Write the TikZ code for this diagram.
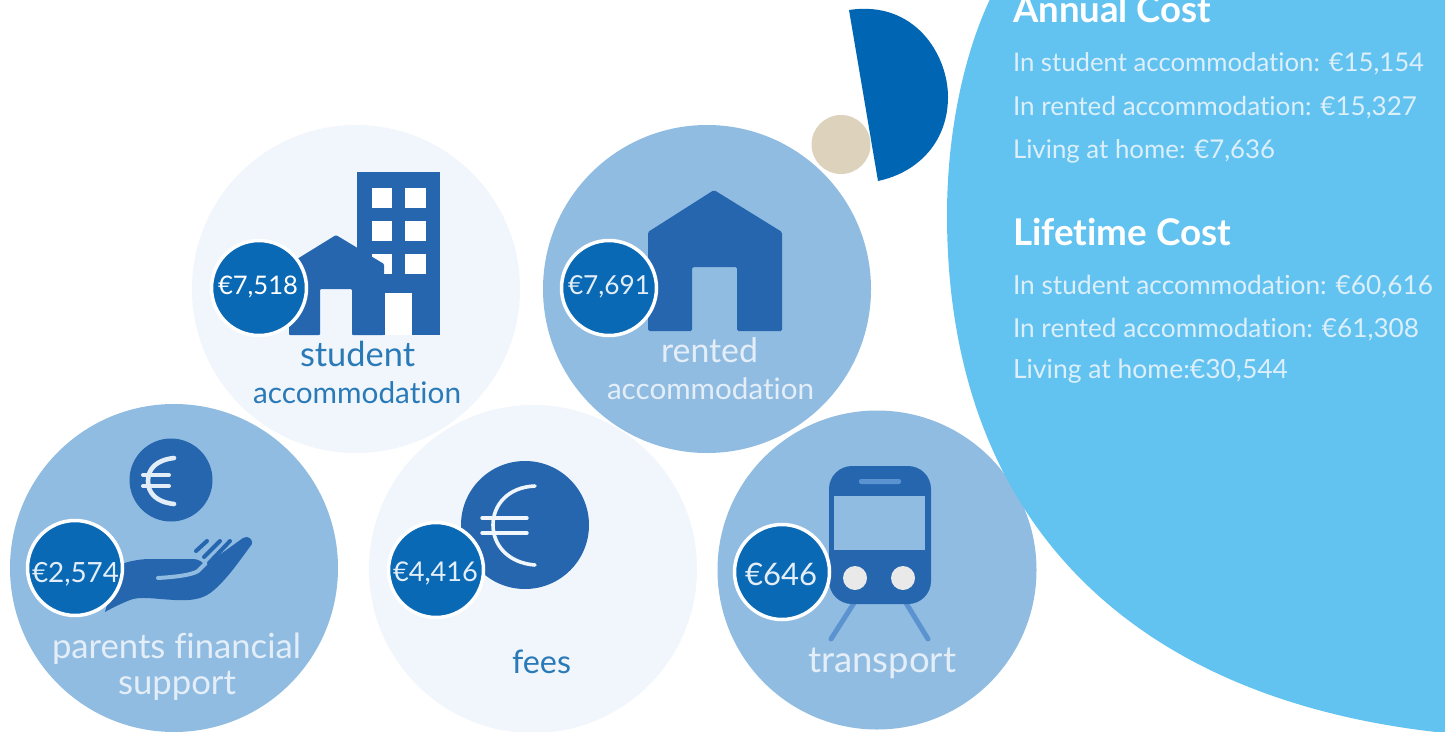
\documentclass[tikz,border=0pt]{standalone}
\usepackage{graphicx}
\usepackage{fontspec}
\setmainfont{Lato}[Ligatures=NoCommon]
\definecolor{bigblue}{HTML}{62C3F0}
\definecolor{midblue}{HTML}{91BCE1}
\definecolor{paleblue}{HTML}{F0F6FC}
\definecolor{iconblue}{HTML}{2566AF}
\definecolor{badgeblue}{HTML}{0A69B4}
\definecolor{deepblue}{HTML}{0066B3}
\definecolor{beige}{HTML}{DDD2BC}
\definecolor{railblue}{HTML}{5B93D0}
\definecolor{lighttxt}{HTML}{E3EEF8}
\definecolor{paneltxt}{HTML}{DCEFFB}
\definecolor{darktxt}{HTML}{2A7AB8}
\definecolor{lampgrey}{HTML}{E9E9E9}
\tikzset{
  lbl/.style={anchor=base west,inner sep=0pt,outer sep=0pt},
  badge/.style={circle,fill=badgeblue,draw=white,line width=3.5pt,inner sep=0pt,minimum size=95pt},
  eurostroke/.style={line cap=round,fill=none},
}
\newcommand{\lab}[6]{\node[lbl,text=#5] (#1) at (#2,#3) {\resizebox{#4pt}{!}{#6}};}
\begin{document}
\begin{tikzpicture}[x=1pt,y=-1pt]
\useasboundingbox (0,0) rectangle (1445,731);
\clip (0,0) rectangle (1445,731);
\fill[white] (0,0) rectangle (1445,731);
% half disc and small disc
\fill[beige] (841,144.5) circle (29.5pt);
\fill[deepblue] (849,10) .. controls (915,0) and (948,55) .. (948,97) .. controls (948,140) and (920,172) .. (878,181) -- cycle;
% big circles
\fill[paleblue] (356,289) circle (164pt);
\fill[midblue] (707,289) circle (164pt);
\fill[midblue] (174,568) circle (164pt);
\fill[paleblue] (533,569) circle (164pt);
\fill[white] (877,570) circle (162pt);
\fill[midblue] (877,570) circle (159.5pt);
% panel
\fill[bigblue] (992,-5) .. controls (965,50) and (947,130) .. (947,215) .. controls (947,520) and (1130,700) .. (1445,733) -- (1450,733) -- (1450,-5) -- cycle;
% student icon
\fill[iconblue] (357,172) rectangle (440,335);
\foreach \wy in {188,221,254}{
  \fill[white] (372,\wy) rectangle ++(20,20);
  \fill[white] (405,\wy) rectangle ++(21,20);
}
\fill[white] (385,293) rectangle (412,335);
\fill[iconblue,rounded corners=1pt] (289,335) -- (289,264) -- (336,235) -- (384,264) -- (384,335) -- (352,335) -- (352,289) -- (320,289) -- (320,335) -- cycle;
% rented icon
\fill[iconblue,rounded corners=1.5pt] (648,331) -- (648,232) -- (714,190) -- (782,232) -- (782,331) -- (737,331) -- (737,267) -- (692,267) -- (692,331) -- cycle;
% parents coin
\fill[iconblue] (171,480) circle (41.5pt);
\draw[paleblue!85!midblue,eurostroke,line width=4.6pt] (174,458) .. controls (156,460) and (148,469) .. (148,481) .. controls (148,493) and (156,502) .. (174,504);
\draw[paleblue!85!midblue,eurostroke,line width=4pt] (143,475) -- (169,475) (143,486) -- (169,486);
% hand
\fill[iconblue] (105,612) -- (118,565) .. controls (130,561) and (140,559) .. (150,559) -- (192,559) .. controls (200,559) and (204,563) .. (204,566) -- (243,538) .. controls (248,535) and (253,539) .. (252,544) .. controls (240,560) and (228,578) .. (214,590) .. controls (205,598) and (195,601) .. (175,600) .. controls (155,599) and (140,596) .. (130,600) .. controls (120,604) and (112,608) .. (105,612) -- cycle;
\draw[midblue,line width=4pt,line cap=round] (158,578) .. controls (175,577) and (192,575) .. (198,571) -- (206,563);
\draw[iconblue,line width=4pt,line cap=round] (196,551) -- (207,541) (204,557) -- (220,541) (209,563) -- (230,541);
% fees coin
\fill[iconblue] (525,525) circle (64pt);
\draw[paleblue,eurostroke,line width=3.6pt] (535,486) .. controls (508,487) and (493,505) .. (493,525) .. controls (493,545) and (508,563) .. (535,565);
\draw[paleblue,eurostroke,line width=3.4pt] (482,518) -- (527,518) (482,533) -- (527,533);
% train
\draw[railblue,line width=5pt,line cap=round] (854,603) -- (831,639) (906,603) -- (928,639);
\fill[iconblue,rounded corners=23pt] (829,466) rectangle (931,604);
\fill[midblue] (834,496) rectangle (925,550);
\fill[railblue,rounded corners=2pt] (859,479) rectangle (901,484);
\fill[lampgrey] (855,578) circle (12pt);
\fill[lampgrey] (903,578) circle (12pt);
% badges
\node[badge] (b1) at (259,288) {};
\node[badge] (b2) at (609,288) {};
\node[badge] (b3) at (75,568) {};
\node[badge] (b4) at (436,570) {};
\node[badge] (b5) at (782,572) {};
\lab{t1}{218}{294}{80}{white}{€7,518}
\lab{t2}{568}{294}{82}{lighttxt}{€7,691}
\lab{t3}{32}{582}{87}{lighttxt}{€2,574}
\lab{t4}{393}{581}{85}{lighttxt}{€4,416}
\lab{t5}{745}{585}{72}{lighttxt}{€646}
% circle labels
\lab{s1}{300}{366}{115}{darktxt}{student}
\lab{s2}{253}{403}{208}{darktxt}{accommodation}
\lab{r1}{661}{362}{97}{lighttxt}{rented}
\lab{r2}{607}{399}{207}{lighttxt}{accommodation}
\lab{p1}{52}{658}{249}{lighttxt}{parents financial}
\lab{p2}{118}{694}{118}{lighttxt}{support}
\lab{f1}{512}{673}{59}{darktxt}{fees}
\lab{v1}{808}{672}{148}{lighttxt}{transport}
% panel text
\lab{h1}{1013}{22}{198}{white}{\bfseries Annual Cost}
\lab{a1}{1013}{71}{411}{paneltxt}{In student accommodation: €15,154}
\lab{a2}{1013}{115}{404}{paneltxt}{In rented accommodation: €15,327}
\lab{a3}{1013}{158}{262}{paneltxt}{Living at home: €7,636}
\lab{h2}{1013}{245}{218}{white}{\bfseries Lifetime Cost}
\lab{l1}{1013}{294}{420}{paneltxt}{In student accommodation: €60,616}
\lab{l2}{1013}{337}{406}{paneltxt}{In rented accommodation: €61,308}
\lab{l3}{1013}{378}{275}{paneltxt}{Living at home:€30,544}
\end{tikzpicture}
\end{document}
